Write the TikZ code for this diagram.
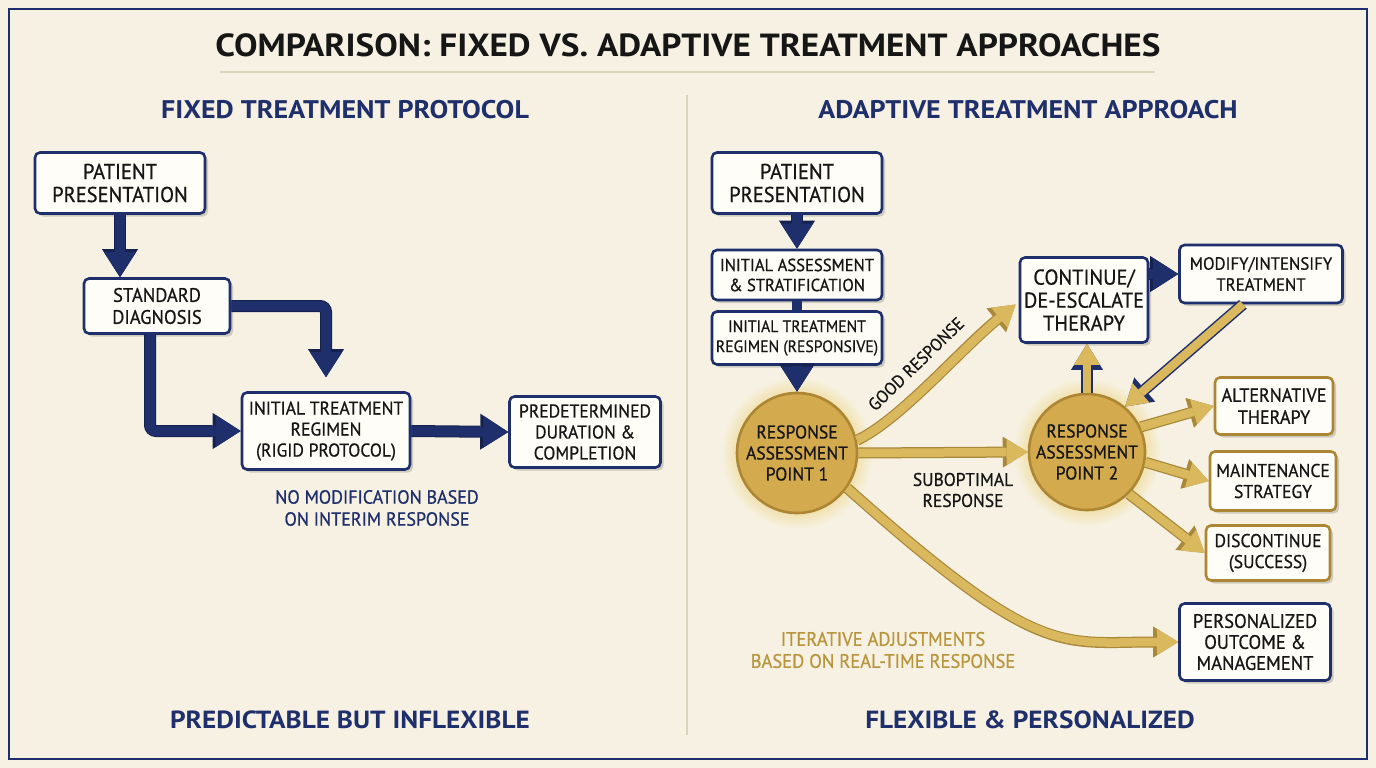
\documentclass[tikz,border=0pt]{standalone}
\usepackage{fontspec}
\setmainfont{PT Sans}
\newfontfamily\condf{PT Sans}[FakeStretch=0.95,FakeBold=0.7]
\newfontfamily\headf{PT Sans}[FakeStretch=1.1]
\usetikzlibrary{arrows.meta,shadows,calc}
\definecolor{bg}{HTML}{F6F1E2}
\definecolor{navy}{HTML}{1E2F6B}
\definecolor{navyd}{HTML}{15224F}
\definecolor{ink}{HTML}{161616}
\definecolor{goldc}{HTML}{D4AA4E}
\definecolor{goldb}{HTML}{AC8632}
\definecolor{golda}{HTML}{D9B85E}
\definecolor{goldao}{HTML}{A9883A}
\definecolor{goldt}{HTML}{B8963E}
\definecolor{boxfill}{HTML}{FEFDF8}
\definecolor{rule}{HTML}{DAD3BD}
\definecolor{glowc}{HTML}{F1DFA6}
\pgfdeclareradialshading{glow}{\pgfpoint{0bp}{0bp}}{color(0bp)=(glowc);color(19bp)=(glowc);color(25bp)=(bg);color(50bp)=(bg)}
\begin{document}
\begin{tikzpicture}[x=1pt,y=-1pt,
  nbox/.style={draw=navy,line width=2.6pt,fill=boxfill,rounded corners=5pt,align=center,
    text=ink,font=\condf\fontsize{18.5}{21}\selectfont,inner sep=2pt,
    drop shadow={shadow xshift=3pt,shadow yshift=-3pt,fill=black,opacity=0.16}},
  gbox/.style={nbox,draw=goldb},
  circ/.style={circle,draw=goldb,line width=2.6pt,fill=goldc,align=center,text=ink,
    font=\condf\fontsize{18.5}{21}\selectfont,inner sep=0pt,minimum size=#1},
  narrow/.style={draw=navy,line width=10pt,rounded corners=6pt,
    -{Triangle[width=32pt,length=25pt,line width=0pt 0 0]},
    preaction={draw=navyd,line width=12pt,-{Triangle[width=36pt,length=28pt,line width=0pt 0 0]}}},
  nbar/.style={draw=navy,line width=10pt},
  garrow/.style={draw=golda,line width=8.5pt,
    -{Triangle[width=26pt,length=21pt,line width=0pt 0 0]},
    preaction={draw=goldao,line width=11pt,-{Triangle[width=31pt,length=25pt,line width=0pt 0 0]}}},
  gnarrow/.style={draw=golda,line width=8.5pt,
    -{Triangle[width=26pt,length=21pt,line width=0pt 0 0]},
    preaction={draw=navy,line width=11.5pt,-{Triangle[width=32pt,length=26pt,line width=0pt 0 0]}}},
  lbl/.style={align=center,text=ink,font=\condf\fontsize{18.4}{21}\selectfont},
  head/.style={text=navy,font=\headf\bfseries\fontsize{25.5}{28}\selectfont},
]
% background and frame
\fill[bg] (0,0) rectangle (1376,768);
\useasboundingbox (0,0) rectangle (1376,768);
\draw[navy,line width=2.6pt] (9,9) rectangle (1367,759);

% title
\node[text=ink,font=\headf\bfseries\fontsize{32}{36}\selectfont] (title) at (688,45)
  {COMPARISON: FIXED VS. ADAPTIVE TREATMENT APPROACHES};
\draw[rule,line width=1.6pt] (220,72) -- (1155,72);
\draw[rule,line width=1.2pt] (687,95) -- (687,735);

\node[head] (hl) at (345,110) {FIXED TREATMENT PROTOCOL};
\node[head] (hr) at (1028,110) {ADAPTIVE TREATMENT APPROACH};
\node[head,font=\headf\bfseries\fontsize{24.8}{28}\selectfont] (bl) at (350,720) {PREDICTABLE BUT INFLEXIBLE};
\node[head,font=\headf\bfseries\fontsize{24.8}{28}\selectfont] (br) at (1030,720) {FLEXIBLE \& PERSONALIZED};

% ---------- left ----------
\node[nbox,minimum width=170pt,minimum height=61pt,font=\condf\fontsize{21.5}{23}\selectfont] (pp1) at (120,183) {PATIENT\\PRESENTATION};
\node[nbox,minimum width=146pt,minimum height=55pt,font=\condf\fontsize{19.5}{22}\selectfont] (sd) at (157,306) {STANDARD\\DIAGNOSIS};
\node[nbox,minimum width=168pt,minimum height=77pt] (itr1) at (326,431) {INITIAL TREATMENT\\REGIMEN\\(RIGID PROTOCOL)};
\node[nbox,minimum width=151pt,minimum height=71pt] (pdc) at (585,432) {PREDETERMINED\\DURATION \&\\COMPLETION};
\node[lbl,text=navy,font=\condf\fontsize{19}{22}\selectfont] (note1) at (377,508) {NO MODIFICATION BASED\\ON INTERIM RESPONSE};

\draw[narrow] (pp1.south) -- (pp1.south |- sd.north);
\draw[narrow,shorten >=14pt] (sd.east) -| (itr1.north);
\draw[narrow] ($(sd.south)+(-7,0)$) |- (itr1.west);
\draw[narrow] (itr1.east) -- (pdc.west);

% ---------- right ----------
\shade[shading=glow] (797,453) circle (76);
\shade[shading=glow] (1087,452) circle (74);

\node[nbox,minimum width=170pt,minimum height=61pt,font=\condf\fontsize{21.5}{23}\selectfont] (pp2) at (797,183) {PATIENT\\PRESENTATION};
\node[nbox,minimum width=170pt,minimum height=50pt,font=\condf\fontsize{17.5}{20}\selectfont] (ias) at (797,275) {INITIAL ASSESSMENT\\\& STRATIFICATION};
\node[nbox,minimum width=170pt,minimum height=53pt,font=\condf\fontsize{16.5}{20}\selectfont] (itr2) at (797,338) {INITIAL TREATMENT\\REGIMEN (RESPONSIVE)};
\node[circ=120pt] (rap1) at (797,453) {RESPONSE\\ASSESSMENT\\POINT 1};
\node[nbox,minimum width=128pt,minimum height=85pt,font=\condf\fontsize{21.5}{23}\selectfont] (cdt) at (1084,300) {CONTINUE/\\DE-ESCALATE\\THERAPY};
\node[nbox,minimum width=163pt,minimum height=58pt,font=\condf\fontsize{17.7}{21}\selectfont] (mit) at (1261,274) {MODIFY/INTENSIFY\\TREATMENT};
\node[circ=116pt] (rap2) at (1087,452) {RESPONSE\\ASSESSMENT\\POINT 2};
\node[gbox,minimum width=118pt,minimum height=57pt,font=\condf\fontsize{19}{22}\selectfont] (alt) at (1274,406) {ALTERNATIVE\\THERAPY};
\node[gbox,minimum width=126pt,minimum height=59pt] (mnt) at (1273,481) {MAINTENANCE\\STRATEGY};
\node[gbox,minimum width=124pt,minimum height=55pt] (dsc) at (1268,553) {DISCONTINUE\\(SUCCESS)};
\node[nbox,minimum width=151pt,minimum height=77pt,font=\condf\fontsize{19.5}{21}\selectfont] (pom) at (1255,642) {PERSONALIZED\\OUTCOME \&\\MANAGEMENT};

\draw[narrow] (pp2.south) -- (ias.north);
\draw[nbar] (ias.south) -- (itr2.north);
\draw[narrow] (itr2.south) -- (rap1.north);

\draw[garrow,shorten >=4pt] (rap1.12) .. controls (900,420) and (960,350) .. (cdt.west |- 0,302);
\draw[garrow] (rap1.east) -- (rap2.west);
\draw[garrow] (rap1.-35) .. controls (1040,660) and (1060,642) .. (pom.west);
\draw[gnarrow] (rap2.north) -- (rap2.north |- cdt.south);
\draw[narrow] (cdt.east |- mit.west) -- (mit.west);
\draw[gnarrow] ($(mit.south)+(-18,0)$) -- (rap2.50);
\draw[garrow] (rap2.25) -- (alt.west);
\draw[garrow] (rap2.-10) -- (mnt.west);
\draw[garrow] (rap2.-45) -- (dsc.west);

\node[lbl,rotate=44,font=\condf\fontsize{17.5}{20}\selectfont] (good) at (916,364) {GOOD RESPONSE};
\node[lbl] (sub) at (963,490) {SUBOPTIMAL\\RESPONSE};
\node[lbl,text=goldt,font=\condf\fontsize{19.5}{22}\selectfont] (iter) at (883,650) {ITERATIVE ADJUSTMENTS\\BASED ON REAL-TIME RESPONSE};
\end{tikzpicture}
\end{document}
